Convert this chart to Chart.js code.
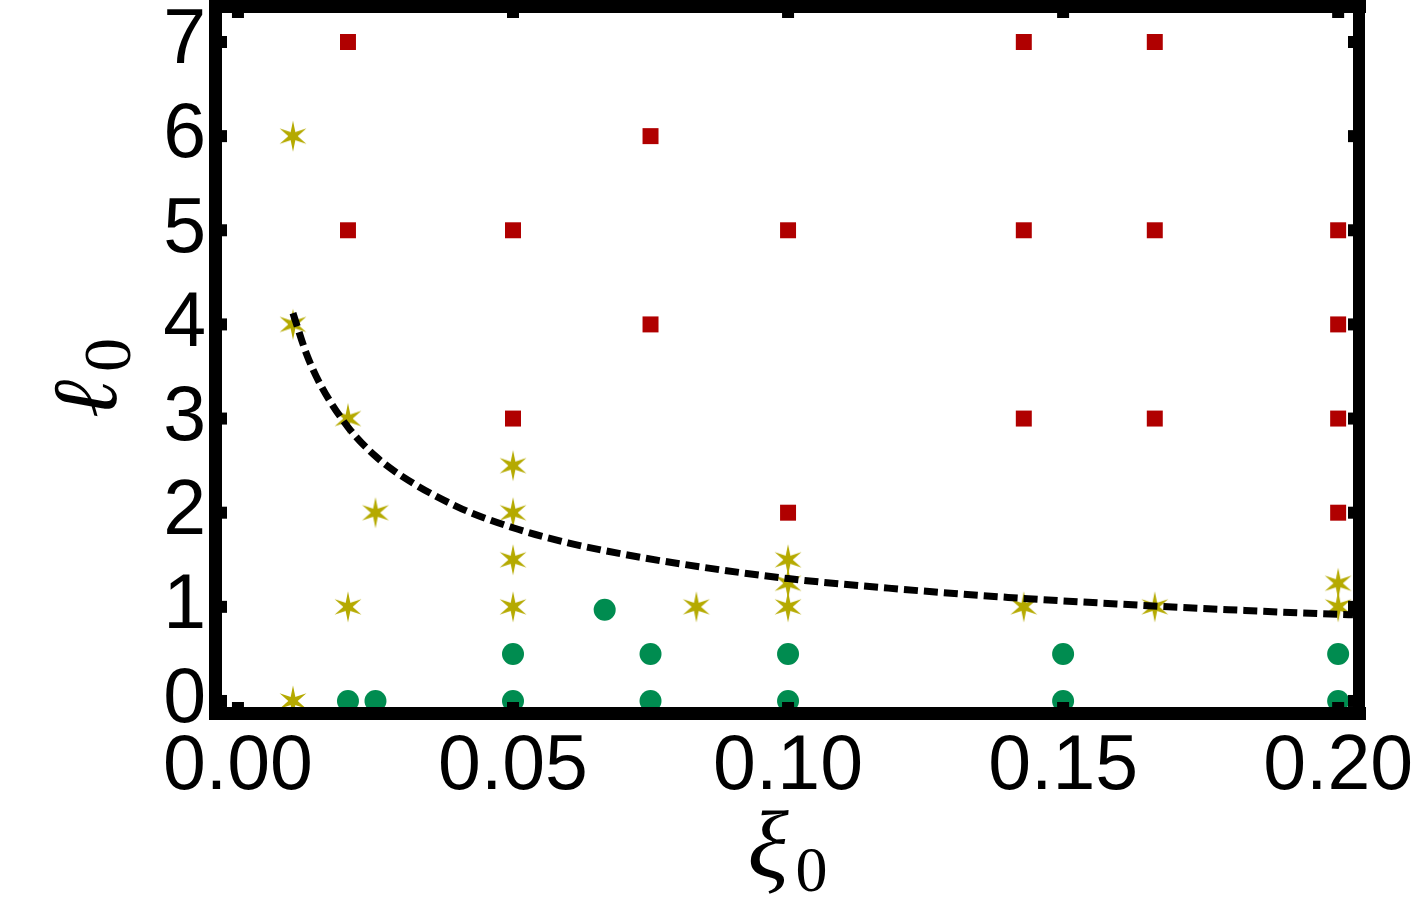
<!DOCTYPE html>
<html><head><meta charset="utf-8">
<script src="https://cdn.jsdelivr.net/npm/chart.js@4.4.1/dist/chart.umd.min.js"></script>
<style>html,body{margin:0;padding:0;background:#fff;overflow:hidden}#wrap{width:1412px;height:918px}</style>
</head><body><div id="wrap"><canvas id="c" width="1412" height="918"></canvas></div>
<script>
const xTickValues = [0, 0.05, 0.10, 0.15, 0.20];
const xTickLabels = ['0.00', '0.05', '0.10', '0.15', '0.20'];
const yTickValues = [0, 1, 2, 3, 4, 5, 6, 7];
const yTickLabels = ['0', '1', '2', '3', '4', '5', '6', '7'];

const squareX = [0.02, 0.02, 0.05, 0.05, 0.075, 0.075, 0.1, 0.1, 0.142857, 0.142857, 0.142857, 0.166667, 0.166667, 0.166667, 0.2, 0.2, 0.2, 0.2];
const squareY = [7, 5, 5, 3, 6, 4, 5, 2, 7, 5, 3, 7, 5, 3, 5, 4, 3, 2];

const starX = [0.01, 0.01, 0.01, 0.02, 0.02, 0.025, 0.05, 0.05, 0.05, 0.05, 0.083333, 0.1, 0.1, 0.1, 0.142857, 0.166667, 0.2, 0.2];
const starY = [6, 4, 0, 3, 1, 2, 2.5, 2, 1.5, 1, 1, 1.5, 1.25, 1, 1, 1, 1.25, 1];

const circleX = [0.02, 0.025, 0.05, 0.05, 0.066667, 0.075, 0.075, 0.1, 0.1, 0.15, 0.15, 0.2, 0.2];
const circleY = [0, 0, 0, 0.5, 0.97, 0.5, 0, 0.5, 0, 0.5, 0, 0.5, 0];

const curveX = [0.01, 0.0125, 0.015, 0.02, 0.025, 0.03, 0.04, 0.05, 0.06, 0.07, 0.08, 0.1, 0.12, 0.14, 0.16, 0.18, 0.2, 0.2027];
const curveY = [4.12, 3.68, 3.36, 2.91, 2.60, 2.38, 2.06, 1.84, 1.68, 1.56, 1.46, 1.30, 1.19, 1.10, 1.03, 0.97, 0.92, 0.915];

const RED = '#b00000', OLIVE = '#b5aa00', GREEN = '#008c50';

function pts(xs, ys) { return xs.map((x, i) => ({ x: x, y: ys[i] })); }

const starImg = document.createElement('canvas');
starImg.width = 34; starImg.height = 34;
(function () {
  const g = starImg.getContext('2d');
  g.translate(17, 17);
  g.fillStyle = OLIVE;
  for (let k = 0; k < 6; k++) {
    g.save();
    g.rotate(k * Math.PI / 3);
    g.beginPath();
    g.moveTo(-3.2, 0);
    g.lineTo(0, -15.5);
    g.lineTo(3.2, 0);
    g.closePath();
    g.fill();
    g.restore();
  }
})();

const framePlugin = {
  id: 'frame',
  afterDatasetsDraw(chart) {
    const { ctx, chartArea: a, scales: { x, y } } = chart;
    ctx.save();
    ctx.fillStyle = '#000';
    const t = 13;
    ctx.fillRect(a.left - t, a.top - t, a.right - a.left + 2 * t, t);
    ctx.fillRect(a.left - t, a.bottom, a.right - a.left + 2 * t, t);
    ctx.fillRect(a.left - t, a.top - t, t, a.bottom - a.top + 2 * t);
    ctx.fillRect(a.right, a.top - t, t - 1, a.bottom - a.top + 2 * t);
    const tw = 12, tl = 5;
    xTickValues.forEach(v => {
      const px = x.getPixelForValue(v);
      ctx.fillRect(px - tw / 2, a.top, tw, tl);
      ctx.fillRect(px - tw / 2, a.bottom - tl, tw, tl);
    });
    yTickValues.forEach(v => {
      const py = y.getPixelForValue(v);
      ctx.fillRect(a.left, py - tw / 2, tl, tw);
      ctx.fillRect(a.right - tl, py - tw / 2, tl, tw);
    });
    ctx.textBaseline = 'alphabetic';
    ctx.textAlign = 'left';
    const cx = (a.left + a.right) / 2;
    ctx.font = 'italic 96px "Liberation Serif", "DejaVu Serif", serif';
    ctx.fillText('ξ', cx - 40, 877);
    ctx.font = '64px "Liberation Serif", "DejaVu Serif", serif';
    ctx.fillText('0', cx + 8, 891);
    const cy = (a.top + a.bottom) / 2;
    ctx.translate(116, cy + 58);
    ctx.rotate(-Math.PI / 2);
    ctx.font = 'italic 92px "Liberation Serif", "DejaVu Serif", serif';
    ctx.fillText('ℓ', 0, 0);
    ctx.font = '68px "Liberation Serif", "DejaVu Serif", serif';
    ctx.fillText('0', 46, 14);
    ctx.restore();
  }
};

const xTickFont = { family: '"Liberation Sans", Arial, sans-serif', size: 77 };
const yTickFont = { family: '"Liberation Sans", Arial, sans-serif', size: 77 };

new Chart(document.getElementById('c'), {
  type: 'scatter',
  data: {
    datasets: [
      {
        type: 'line', data: pts(curveX, curveY), borderColor: '#000', borderWidth: 7,
        borderDash: [14, 6], pointRadius: 0, cubicInterpolationMode: 'monotone', fill: false, order: 0
      },
      { data: pts(squareX, squareY), pointStyle: 'rect', pointRadius: 11.3, backgroundColor: RED, borderColor: RED, borderWidth: 0, order: 1 },
      { data: pts(starX, starY), pointStyle: starImg, pointRadius: 15, backgroundColor: OLIVE, order: 1 },
      { data: pts(circleX, circleY), pointStyle: 'circle', pointRadius: 11, backgroundColor: GREEN, borderColor: GREEN, borderWidth: 0, order: 1 }
    ]
  },
  options: {
    responsive: false, animation: false, devicePixelRatio: 1,
    layout: { autoPadding: false, padding: { top: 13, right: 59, left: 0, bottom: 0 } },
    plugins: { legend: { display: false }, tooltip: { enabled: false } },
    datasets: { scatter: { clip: false }, line: { clip: false } },
    scales: {
      x: {
        type: 'linear', min: -0.0029, max: 0.2027,
        grid: { display: false, drawTicks: false }, border: { display: false },
        ticks: { font: xTickFont, color: '#000', padding: 15, callback: (v) => { const i = xTickValues.findIndex(t => Math.abs(t - v) < 1e-9); return i >= 0 ? xTickLabels[i] : ''; } },
        afterBuildTicks: s => { s.ticks = xTickValues.map(v => ({ value: v })); },
        afterFit: s => { s.height = 211; s.paddingLeft = 0; s.paddingRight = 0; }
      },
      y: {
        type: 'linear', min: -0.064, max: 7.308,
        grid: { display: false, drawTicks: false }, border: { display: false },
        ticks: { font: yTickFont, color: '#000', padding: 16, callback: (v) => { const i = yTickValues.indexOf(v); return i >= 0 ? yTickLabels[i] : ''; } },
        afterBuildTicks: s => { s.ticks = yTickValues.map(v => ({ value: v })); },
        afterFit: s => { s.width = 222; s.paddingTop = 0; s.paddingBottom = 0; }
      }
    }
  },
  plugins: [framePlugin]
});
</script></body></html>
